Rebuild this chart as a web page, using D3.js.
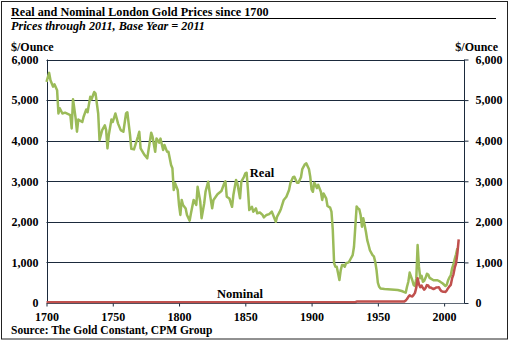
<!DOCTYPE html>
<html><head><meta charset="utf-8">
<script src="https://cdn.jsdelivr.net/npm/d3@7"></script>
<style>html,body{margin:0;padding:0;background:#fff;}svg{display:block;font-family:"Liberation Serif","Times New Roman",serif;font-weight:bold;}</style>
</head><body>
<script>
// ---- data ----
const titleText = "Real and Nominal London Gold Prices since 1700";
const subtitleText = "Prices through 2011, Base Year = 2011";
const sourceText = "Source: The Gold Constant, CPM Group";
const yTicks = [0, 1000, 2000, 3000, 4000, 5000, 6000];
const xTicks = [1700, 1750, 1800, 1850, 1900, 1950, 2000];

const realYears = [1700,1702,1703,1705,1706,1708,1709,1710,1712,1714,1718,1719,1720,1722,1723,1724,1727,1728,1730,1731,1733,1734,1736,1737,1739,1740,1742,1744,1745,1746,1747,1749,1750,1752,1754,1756,1758,1760,1761,1762,1763,1764,1766,1769,1770,1771,1774,1776,1779,1780,1782,1783,1785,1786,1788,1789,1791,1792,1794,1795,1796,1797,1799,1800,1801,1802,1803,1805,1806,1808,1809,1811,1813,1814,1816,1817,1819,1820,1822,1823,1825,1826,1829,1832,1834,1835,1836,1838,1840,1841,1843,1844,1846,1847,1849,1850,1851,1852,1853,1855,1856,1858,1859,1861,1863,1864,1866,1868,1870,1871,1873,1874,1876,1877,1879,1881,1883,1884,1886,1887,1889,1890,1892,1893,1895,1896,1898,1899,1900,1901,1902,1903,1904,1905,1907,1908,1909,1911,1912,1914,1915,1916,1917,1918,1919,1920,1921,1922,1923,1924,1925,1926,1928,1929,1931,1932,1933,1934,1935,1936,1937,1938,1939,1940,1941,1942,1943,1944,1946,1947,1948,1949,1950,1951,1952,1955,1960,1965,1968,1970,1971,1972,1973,1974,1976,1977,1978,1979,1980,1981,1982,1983,1984,1985,1986,1987,1988,1989,1990,1992,1995,1997,1999,2001,2002,2003,2004,2005,2006,2007,2008,2009,2010];
const realValues = [5450,5670,5490,5330,5390,5245,4670,4800,4670,4690,4630,4300,5020,4550,4220,4520,4460,4590,4770,4700,5080,5020,5200,5160,4670,4015,4260,4380,4260,3810,4140,4520,4460,4670,4420,4260,4220,4670,4700,4420,4150,3800,3785,4100,4220,3810,3645,3565,4195,4100,3725,4055,3950,4050,3770,3895,3725,3725,3400,3320,2785,2950,2785,2415,2170,2540,2415,2330,2170,2030,2210,2540,2415,2865,2500,2090,2460,2745,2990,2745,2335,2540,2680,2760,2940,3000,2620,2575,2370,2660,3030,2950,2580,2990,3110,3195,3210,2785,2290,2370,2250,2330,2210,2230,2170,2110,2170,2190,2250,2170,2000,2130,2250,2330,2540,2620,2785,2950,3100,3110,2960,2960,3100,3300,3420,3440,3300,3110,2800,2740,2965,2910,2830,2910,2740,2540,2700,2580,2390,2350,2250,1800,980,895,895,730,565,810,935,935,895,980,1000,1060,1180,1385,1880,2380,2330,2310,2170,1880,2090,1920,1755,1550,1430,1300,1180,1150,1020,810,500,400,360,345,335,320,295,270,255,400,525,750,560,445,420,600,1430,895,610,670,525,550,620,720,700,620,600,560,560,525,480,420,450,560,630,680,850,950,1080,1200,1350];

const nominalYears = [1700,1750,1800,1850,1900,1933,1934,1950,1968,1970,1971,1972,1973,1974,1975,1976,1977,1978,1979,1980,1981,1982,1983,1984,1985,1986,1987,1988,1989,1990,1991,1992,1993,1994,1995,1996,1997,1998,1999,2000,2001,2002,2003,2004,2005,2006,2007,2008,2009,2010,2011];
const nominalValues = [19,19,19,20,20,21,35,35,39,40,60,100,150,190,170,160,200,250,380,610,460,390,430,370,330,370,440,430,380,380,360,345,360,385,385,390,330,295,280,280,270,310,365,410,445,605,700,870,975,1225,1570];

// ---- chart ----
const W = 510, H = 341;
const svg = d3.select("body").append("svg").attr("width", W).attr("height", H);
const ink = "#1b2a3c";

const x = d3.scaleLinear().domain([1700, 2015]).range([46.5, 464]);
const y = d3.scaleLinear().domain([0, 6000]).range([303, 59.5]);

// outer border
svg.append("rect").attr("x", 1.5).attr("y", 1.5).attr("width", 506).attr("height", 337.5)
  .attr("fill", "#fff").attr("stroke", "#222").attr("stroke-width", 1);

// title
svg.append("text").attr("x", 11).attr("y", 16).attr("font-size", 12.2).attr("fill", "#000").text(titleText);
svg.append("line").attr("x1", 11).attr("x2", 496).attr("y1", 18.5).attr("y2", 18.5).attr("stroke", "#000");
svg.append("text").attr("x", 11).attr("y", 30).attr("font-size", 12.2).attr("font-style", "italic").attr("fill", "#000").text(subtitleText);

// units
svg.append("text").attr("x", 11).attr("y", 51).attr("font-size", 12).text("$/Ounce");
svg.append("text").attr("x", 498).attr("y", 51).attr("font-size", 12).attr("text-anchor", "end").text("$/Ounce");

// gridlines
svg.append("g").selectAll("line").data(yTicks.filter(d => d > 0)).join("line")
  .attr("x1", x(1700)).attr("x2", x(2015))
  .attr("y1", d => Math.round(y(d)) + 0.5).attr("y2", d => Math.round(y(d)) + 0.5)
  .attr("stroke", ink).attr("stroke-width", 1);

// left axis
const left = svg.append("g").attr("transform", `translate(${Math.round(x(1700)) + 0.5},0)`)
  .call(d3.axisLeft(y).tickValues(yTicks).tickFormat(d3.format(",")).tickSize(0).tickPadding(9));
left.select(".domain").attr("stroke", ink).attr("d", `M0,${y(6000)}V${y(0)}`);
left.selectAll("text").attr("font-size", 12).attr("font-family", "Liberation Serif").attr("font-weight", "bold").attr("fill", "#000");

// right axis
const right = svg.append("g").attr("transform", `translate(${Math.round(x(2015)) + 0.5},0)`)
  .call(d3.axisRight(y).tickValues(yTicks).tickFormat(d3.format(",")).tickSize(4).tickPadding(7));
right.select(".domain").attr("stroke", ink).attr("d", `M0,${y(6000)}V${y(0)}`);
right.selectAll(".tick line").attr("stroke", ink);
right.selectAll("text").attr("font-size", 12).attr("font-family", "Liberation Serif").attr("font-weight", "bold").attr("fill", "#000");

// series
const realData = realYears.map((yr, i) => [yr, realValues[i]]);
const nomData = nominalYears.map((yr, i) => [yr, nominalValues[i]]);
const line = d3.line().x(d => x(d[0])).y(d => y(d[1]));

svg.append("path").datum(realData).attr("d", line)
  .attr("fill", "none").attr("stroke", "#9bbb59").attr("stroke-width", 2.5).attr("stroke-linejoin", "round");
svg.append("path").datum(nomData).attr("d", line)
  .attr("fill", "none").attr("stroke", "#c0504d").attr("stroke-width", 2.5).attr("stroke-linejoin", "round");

// bottom axis
const bottom = svg.append("g").attr("transform", `translate(0,${Math.round(y(0)) + 0.5})`)
  .call(d3.axisBottom(x).tickValues(xTicks).tickFormat(d3.format("d")).tickSize(3).tickPadding(6));
bottom.select(".domain").attr("stroke", ink).attr("stroke-opacity", 0.7).attr("d", `M${x(1700)},0H${x(2015) + 4}`);
bottom.selectAll(".tick line").attr("stroke", ink);
bottom.selectAll("text").attr("font-size", 12).attr("font-family", "Liberation Serif").attr("font-weight", "bold").attr("fill", "#000");

// series labels
svg.append("text").attr("x", 262).attr("y", 177).attr("font-size", 12.5).attr("text-anchor", "middle").text("Real");
svg.append("text").attr("x", 240).attr("y", 298).attr("font-size", 12.5).attr("text-anchor", "middle").text("Nominal");

// source
svg.append("text").attr("x", 11).attr("y", 334).attr("font-size", 11.5).text(sourceText);
</script>
</body></html>
